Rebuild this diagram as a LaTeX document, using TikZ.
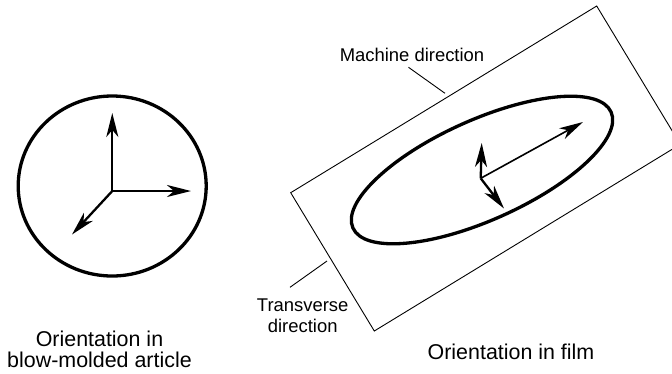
\documentclass[tikz,border=0pt]{standalone}
\usepackage{fontspec}
\setmainfont{Liberation Sans}
\usetikzlibrary{arrows.meta}
\begin{document}
\begin{tikzpicture}[x=1bp,y=-1bp,
  bigtxt/.style={font=\fontsize{21.5}{21.3}\selectfont, inner sep=0pt, anchor=base},
  smalltxt/.style={font=\fontsize{18.5}{22}\selectfont, inner sep=0pt, anchor=base},
  thickline/.style={line width=3.3bp},
  thinline/.style={line width=0.9bp},
  head/.style={-{Stealth[length=24bp,width=12bp,inset=7bp]}},
  vec/.style={line width=2.3bp, head},
  vecthin/.style={line width=1.6bp, head}]
\useasboundingbox (0,0) rectangle (672,373);
\clip (0,0) rectangle (672,373);
% left: blow-molded article
\draw[thickline] (112.2,186) ellipse [x radius=94bp, y radius=90bp];
\coordinate (o1) at (112.3,191);
\coordinate (u1) at (112.3,113);
\coordinate (r1) at (191,191);
\coordinate (d1) at (72,234.5);
\draw[vec] (o1) -- (u1);
\draw[vec] (o1) -- (r1);
\draw[vec] (o1) -- (d1);
\node[bigtxt] (lab1) at (99.5,346) {\begin{tabular}[t]{@{}c@{}}Orientation in\\blow-molded article\end{tabular}};
% right: film
\coordinate (L) at (290.7,192.7);
\coordinate (T) at (596.7,6);
\coordinate (R) at (680.3,144.3);
\coordinate (B) at (374.3,331);
\draw[thinline] (L) -- (T) -- (R) -- (B) -- cycle;
\draw[thickline, rotate around={24.2:(482,170)}] (482,170) ellipse [x radius=141.5bp, y radius=50bp];
\coordinate (o2) at (480.7,178.3);
\coordinate (a2) at (583,122);
\coordinate (u2) at (481.7,143);
\coordinate (d2) at (504,208.5);
\draw[vecthin] (o2) -- (a2);
\draw[vec] (o2) -- (u2);
\draw[vec] (o2) -- (d2);
\node[smalltxt] (md) at (412,61.5) {Machine direction};
\coordinate (mdA) at (408.5,67.3);
\coordinate (mdB) at (445,93.3);
\draw[thinline] (mdA) -- (mdB);
\node[smalltxt] (td) at (302.7,311) {\begin{tabular}[t]{@{}c@{}}Transverse\\direction\end{tabular}};
\coordinate (tdA) at (327,261);
\coordinate (tdB) at (290,287.3);
\draw[thinline] (tdA) -- (tdB);
\node[bigtxt] (lab2) at (511,359) {Orientation in film};
\end{tikzpicture}
\end{document}
